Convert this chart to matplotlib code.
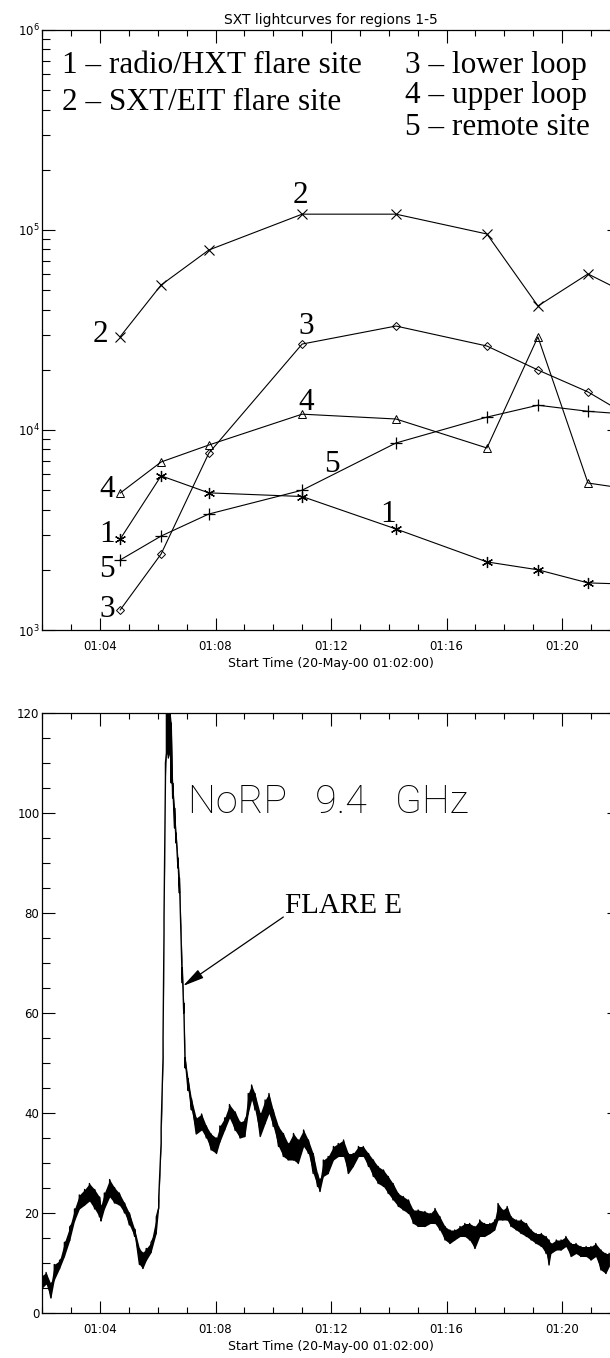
import numpy as np
import matplotlib
matplotlib.use("Agg")
import matplotlib.pyplot as plt
from matplotlib.ticker import (FixedLocator, MultipleLocator, FuncFormatter,
                               LogLocator, NullFormatter)

# ---- SXT light curves: sample times in seconds after 01:02:00 -------------
sxt_t = [162, 247, 346, 540, 735, 924, 1030, 1134, 1236]
sxt_1 = [2850, 5900, 4850, 4650, 3200, 2190, 2000, 1720, 1690]        # radio/HXT
sxt_2 = [29300, 53100, 79400, 120000, 120000, 95500, 41700, 60300, 45400]  # SXT/EIT
sxt_3 = [1260, 2400, 7650, 26900, 33100, 26300, 19950, 15500, 11100]   # lower loop
sxt_4 = [4840, 6920, 8410, 12000, 11350, 8130, 29200, 5430, 5000]      # upper loop
sxt_5 = [2240, 2950, 3800, 5000, 8610, 11600, 13300, 12400, 11900]     # remote site

legend_left = ["1 \u2013 radio/HXT flare site", "2 \u2013 SXT/EIT flare site"]
legend_right = ["3 \u2013 lower loop", "4 \u2013 upper loop", "5 \u2013 remote site"]

# ---- NoRP 9.4 GHz: lower / upper envelope of the noisy trace ---------------
norp_t = [0, 8, 18, 25, 36, 46, 57, 67, 77, 88,
          98, 109, 119, 122, 129, 140, 150, 160, 171, 181,
          192, 202, 209, 216, 226, 237, 242, 247, 251, 253,
          256, 258, 262, 265, 268, 271, 275, 278, 282, 285,
          291, 294, 297, 303, 310, 320, 331, 341, 351, 362,
          369, 379, 389, 401, 411, 421, 428, 435, 442, 453,
          463, 471, 480, 491, 501, 511, 522, 532, 543, 553,
          563, 572, 577, 584, 594, 605, 615, 626, 636, 646,
          657, 667, 678, 688, 698, 709, 719, 729, 740, 750,
          761, 771, 781, 795, 806, 816, 826, 837, 847, 857,
          868, 878, 888, 899, 909, 919, 930, 940, 947, 957,
          966, 974, 985, 995, 1006, 1016, 1026, 1037, 1047, 1053,
          1057, 1068, 1078, 1088, 1099, 1109, 1119, 1130, 1140, 1150,
          1161, 1171, 1178]
norp_lo = [5.0, 5.8, 3.0, 6.6, 8.9, 11.3, 14.5, 18.4, 20.8, 21.6,
           22.4, 20.8, 19.2, 18.4, 20.8, 23.2, 22.0, 21.6, 20.0, 17.6,
           15.3, 9.7, 8.9, 10.5, 12.1, 16.0, 21.0, 34.0, 51.0, 76.0,
           107.0, 112.0, 111.0, 112.0, 106.0, 103.0, 97.0, 94.0, 89.0, 84.0,
           66.0, 60.0, 49.0, 44.5, 40.6, 35.8, 36.6, 35.0, 32.6, 31.9,
           34.2, 36.6, 39.0, 36.5, 35.0, 35.3, 39.9, 42.6, 40.6, 35.3,
           37.9, 39.9, 37.3, 33.3, 31.3, 30.6, 30.6, 29.9, 33.3, 31.9,
           27.9, 25.3, 24.3, 27.3, 27.9, 30.6, 31.3, 31.3, 27.9, 29.3,
           31.3, 31.3, 29.3, 27.3, 25.9, 25.3, 23.9, 22.6, 21.3, 20.6,
           19.9, 17.9, 17.3, 17.3, 17.9, 17.9, 16.6, 14.6, 13.9, 14.6,
           15.3, 15.3, 14.6, 12.9, 15.3, 15.3, 15.9, 16.6, 18.6, 18.6,
           18.6, 17.3, 16.6, 15.9, 15.3, 14.6, 13.9, 13.3, 11.9, 9.6,
           11.9, 12.6, 12.6, 13.3, 11.3, 11.9, 11.3, 11.3, 10.6, 11.3,
           8.6, 7.9, 9.3]
norp_hi = [7.5, 8.1, 5.8, 9.7, 10.5, 14.1, 17.2, 20.8, 23.6, 24.7,
           25.9, 24.7, 23.2, 21.5, 24.0, 26.7, 25.1, 24.0, 22.0, 20.0,
           16.8, 12.9, 12.1, 12.9, 14.1, 19.2, 23.0, 37.0, 55.0, 79.0,
           110.0, 121.0, 121.0, 121.0, 118.0, 106.0, 101.0, 96.0, 91.0, 87.0,
           69.0, 62.0, 51.0, 46.9, 42.9, 39.0, 39.8, 37.4, 35.8, 35.0,
           37.4, 39.0, 41.7, 40.2, 38.2, 38.6, 43.9, 45.6, 43.9, 39.9,
           42.6, 43.9, 40.6, 37.3, 35.9, 33.9, 35.9, 34.6, 36.6, 34.6,
           31.9, 27.9, 26.6, 30.6, 31.3, 33.3, 33.9, 34.6, 31.9, 31.9,
           33.3, 33.3, 31.9, 30.6, 29.3, 28.6, 27.3, 25.9, 23.9, 23.3,
           22.6, 20.6, 20.6, 20.3, 19.9, 20.9, 19.3, 17.3, 16.6, 16.6,
           17.3, 17.9, 17.9, 17.3, 18.6, 17.9, 17.9, 18.6, 21.9, 20.6,
           21.3, 19.3, 18.6, 18.6, 17.9, 16.6, 15.9, 15.9, 15.3, 14.6,
           13.9, 14.6, 14.6, 15.3, 13.9, 13.9, 13.3, 13.3, 13.3, 13.9,
           12.6, 11.9, 11.9]

T_END = 1200          # 01:22:00
SERIF = "Liberation Serif"


def hhmm(s, pos=None):
    return "01:%02d" % (2 + int(round(s)) // 60)


def time_axis(ax):
    ax.set_xlim(0, T_END)
    ax.xaxis.set_major_locator(FixedLocator([120, 360, 600, 840, 1080]))
    ax.xaxis.set_minor_locator(MultipleLocator(60))
    ax.xaxis.set_major_formatter(FuncFormatter(hhmm))
    ax.tick_params(axis="x", which="major", length=9, pad=7)
    ax.tick_params(axis="x", which="minor", length=4)
    ax.tick_params(axis="y", which="major", length=9.4, pad=2)
    ax.tick_params(axis="y", which="minor", length=5.4)
    ax.tick_params(which="both", direction="in", top=True, right=True,
                   width=0.8, labelsize=8.5)
    for sp in ax.spines.values():
        sp.set_linewidth(0.9)
    ax.set_xlabel("Start Time (20-May-00 01:02:00)", fontsize=9, labelpad=3)


fig = plt.figure(figsize=(6.1, 13.58), dpi=100)
W, H = 610.0, 1358.0
left, width = 42.25 / W, 577.5 / W

# ---------------- SXT panel ----------------
ax1 = fig.add_axes([left, (H - 630) / H, width, 600 / H])
ax1.set_yscale("log")
ax1.set_ylim(1e3, 1e6)
ax1.yaxis.set_major_locator(LogLocator(base=10, numticks=10))
ax1.yaxis.set_minor_locator(LogLocator(base=10, subs=np.arange(2, 10), numticks=10))
ax1.yaxis.set_minor_formatter(NullFormatter())
time_axis(ax1)
ax1.set_title("SXT lightcurves for regions 1-5", fontsize=10, pad=4)

kw = dict(color="black", lw=0.8)
ax1.plot(sxt_t, sxt_1, marker=(6, 2, 0), ms=8, mew=0.9, **kw)
ax1.plot(sxt_t, sxt_2, marker="x", ms=7, mew=0.8, **kw)
ax1.plot(sxt_t, sxt_3, marker="D", ms=4.5, mew=0.7, mfc="none", **kw)
ax1.plot(sxt_t, sxt_4, marker="^", ms=6, mew=0.7, mfc="none", **kw)
ax1.plot(sxt_t, sxt_5, marker="+", ms=8, mew=0.9, **kw)

big = dict(family=SERIF, fontsize=22.5, color="black")
for i, s in enumerate(legend_left):
    ax1.text(0.0342, [0.9283, 0.8667][i], s, transform=ax1.transAxes,
             va="baseline", ha="left", **big)
for i, s in enumerate(legend_right):
    ax1.text(0.6281, [0.9283, 0.8783, 0.825][i], s, transform=ax1.transAxes,
             va="baseline", ha="left", **big)

# curve numbers at the start of each series
for lab, v in [("2", 27500), ("4", 4624), ("1", 2754), ("5", 1841), ("3", 1161)]:
    tx = 137 if lab == "2" else 151
    ax1.text(tx, v, lab, ha="right", va="baseline", **big)
# curve numbers further along
for lab, tx, v in [("2", 537, 136500), ("3", 549, 30200), ("4", 548, 12590),
                   ("5", 601, 6166), ("1", 718, 3467)]:
    ax1.text(tx, v, lab, ha="center", va="baseline", **big)

# ---------------- NoRP panel ----------------
ax2 = fig.add_axes([left, (H - 1313) / H, width, 600 / H])
ax2.set_ylim(0, 120)
ax2.yaxis.set_major_locator(MultipleLocator(20))
ax2.yaxis.set_minor_locator(MultipleLocator(5))
time_axis(ax2)

# solid band between the envelopes, edged by a saw-tooth through them
ax2.fill_between(norp_t, norp_lo, norp_hi, color="black", lw=0)
saw_t = np.repeat(norp_t, 2)
saw_v = np.column_stack([norp_lo, norp_hi]).ravel()
ax2.plot(saw_t, saw_v, color="black", lw=1.0)

ax2.text(303, 100, "NoRP   9.4   GHz", family="Roboto", fontweight="light",
         fontsize=28.4, ha="left", va="baseline")
ax2.text(505, 80, "FLARE E", family=SERIF, fontsize=21, ha="left", va="baseline")
ax2.annotate("", xy=(292.5, 65.4), xytext=(501, 79.2),
             arrowprops=dict(arrowstyle="-|>,head_length=1.3,head_width=0.3",
                             color="black", lw=0.9, shrinkA=0, shrinkB=0))

fig.savefig("out.png", dpi=100)
